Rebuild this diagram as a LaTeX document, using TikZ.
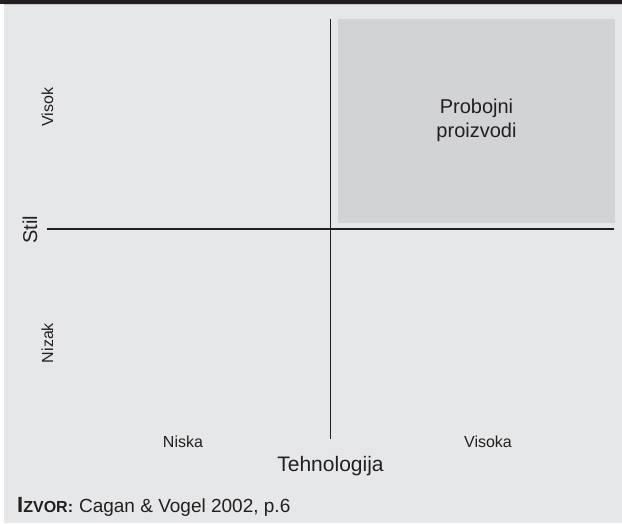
\documentclass[tikz,border=0pt]{standalone}
\usepackage{fontspec}
\setmainfont{Liberation Sans}

\definecolor{ink}{HTML}{231F20}
\definecolor{paper}{HTML}{E6E7E8}
\definecolor{cell}{HTML}{D1D3D4}

\def\axiswidth{1.1pt}

\begin{document}
\begin{tikzpicture}[x=1pt, y=1pt,
    every node/.style={text=ink, inner sep=0pt},
    axis/.style={draw=ink, line width=\axiswidth},
    level/.style={font=\fontsize{16}{18}\selectfont},
    title/.style={font=\fontsize{20}{24}\selectfont}]
      \useasboundingbox (0,0) rectangle (622,523);
      % page frame and header bar
      \fill[paper] (4,0) rectangle (622,518);
      \fill[ink] (0,523) rectangle (622,519);
      \fill[gray!45] (4,519) rectangle (622,518);
      % top right quadrant
      \fill[cell] (338,504) rectangle (615,300);
      \node[title, align=center] (hit) at (476.5, 403) {Probojni\\proizvodi};
      % axes
      \coordinate (top) at (330.5, 504);
      \coordinate (bottom) at (330.5, 84);
      \coordinate (left) at (47, 294);
      \coordinate (right) at (614, 294);
      \draw[axis] (top) -- (bottom);
      \draw[axis] (left) -- (right);
      % style axis
      \node[title, rotate=90] (stil) at (30, 293) {Stil};
      \node[level, rotate=90] (visok) at (47.5, 416) {Visok};
      \node[level, rotate=90] (nizak) at (47.5, 180) {Nizak};
      % technology axis
      \node[level, anchor=base] (niska) at (183, 76) {Niska};
      \node[level, anchor=base] (visoka) at (488, 76) {Visoka};
      \node[anchor=base, font=\fontsize{21}{24}\selectfont] (tech) at (330.5, 52) {Tehnologija};
      % source line
      \node[anchor=base west, font=\fontsize{19}{22}\selectfont] (src) at (17, 11)
        {\textbf{\fontsize{22}{24}\selectfont I\fontsize{16}{18}\selectfont ZVOR:}\hspace{6pt}Cagan \& Vogel 2002, p.6};
    \end{tikzpicture}
\end{document}
